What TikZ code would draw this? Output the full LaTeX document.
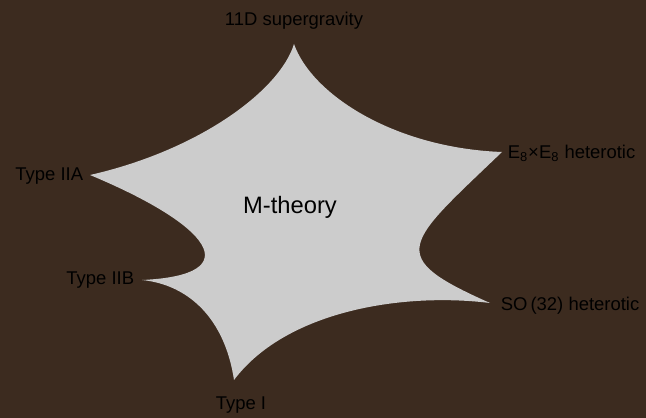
\documentclass[tikz,border=0pt]{standalone}
\usepackage{fontspec}
\setmainfont{Liberation Sans}
\definecolor{bgbrown}{HTML}{3C2B1F}
\definecolor{branegray}{HTML}{CCCCCC}

\begin{document}
\begin{tikzpicture}[x=0.02cm,y=-0.02cm,
  lbl/.style={font=\fontsize{10.5}{12}\selectfont,text=black,inner sep=2pt}]
% background
\fill[bgbrown] (0,0) rectangle (646,418);
% cusps of the star
\coordinate (sugra) at (294,44);
\coordinate (ehet) at (502,152);
\coordinate (sohet) at (490,303);
\coordinate (typeI) at (234,380);
\coordinate (typeIIB) at (142,280);
\coordinate (typeIIA) at (90,175);
% moduli space
\fill[branegray] (sugra) .. controls (312,95) and (395,148) .. (ehet)
  .. controls (405,245) and (384,256) .. (sohet)
  .. controls (400,292) and (285,312) .. (typeI)
  .. controls (225,320) and (190,285) .. (typeIIB)
  .. controls (250,275) and (210,225) .. (typeIIA)
  .. controls (200,150) and (280,90) .. cycle;
% labels
\node[font=\fontsize{13.5}{16}\selectfont] (mth) at (290,207) {M-theory};
\node[lbl] (sugralbl) at (294,21) {11D supergravity};
\node[lbl,anchor=west] (ehetlbl) at (504,153) {E\textsubscript{8}×E\textsubscript{8} heterotic};
\node[lbl,anchor=west] (soheflbl) at (497,306) {SO\,(32) heterotic};
\node[lbl] (typeIlbl) at (241,405) {Type I};
\node[lbl,anchor=east] (typeIIBlbl) at (138,280) {Type IIB};
\node[lbl,anchor=east] (typeIIAlbl) at (87,176) {Type IIA};
\end{tikzpicture}
\end{document}
